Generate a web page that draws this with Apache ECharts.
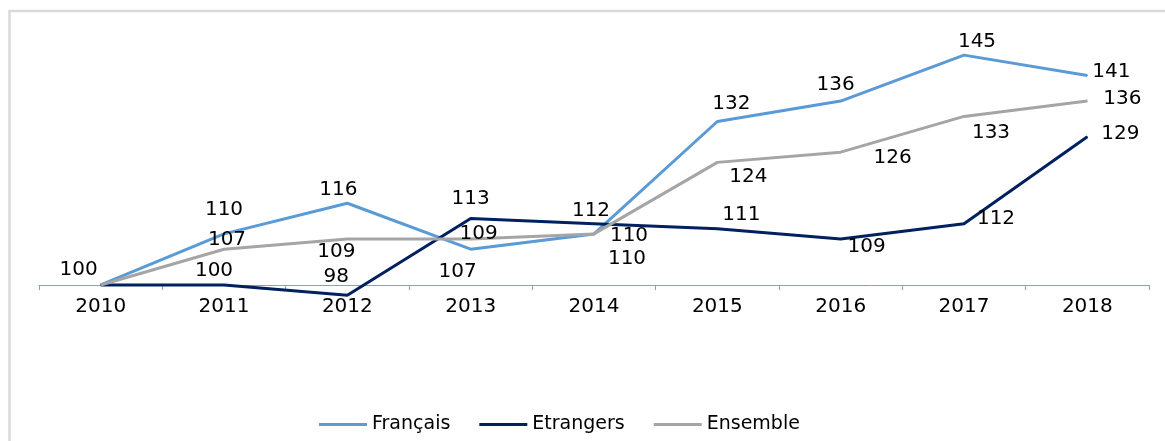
<!DOCTYPE html>
<html>
<head>
<meta charset="utf-8">
<style>
    html, body { margin: 0; padding: 0; background: #fff; }
    #chart { width: 1165px; height: 441px; }
</style>
<script src="https://cdn.jsdelivr.net/npm/echarts@6/dist/echarts.min.js"></script>
</head>
<body>
<div id="chart"></div>
<script>
    var years = ['2010', '2011', '2012', '2013', '2014', '2015', '2016', '2017', '2018'];
    var francais = [100, 110, 116, 107, 110, 132, 136, 145, 141];
    var etrangers = [100, 100, 98, 113, 112, 111, 109, 112, 129];
    var ensemble = [100, 107, 109, 109, 110, 124, 126, 133, 136];

    // label offsets from each point (null = no label)
    var francaisLabelPos = [[-22, -15], [0, -24], [-9, -13], [-13, 23], [33, 25], [14, -18], [-5, -16], [13, -13], [24, -4]];
    var etrangersLabelPos = [null, [-10, -14], [-11, -18], [0, -20], [-3, -13], [24, -14], [26, 8], [32, -5], [33, -3]];
    var ensembleLabelPos = [null, [3, -9], [-11, 13], [8, -5], [35, 2], [31, 14], [52, 6], [27, 16], [35, -2]];

    var font = 'DejaVu Sans';

    function buildData(values, offsets) {
        return values.map(function (v, i) {
            var off = offsets[i];
            if (!off) {
                return { value: v, label: { show: false } };
            }
            return { value: v, label: { offset: off } };
        });
    }

    function makeSeries(name, color, values, offsets) {
        return {
            name: name,
            type: 'line',
            data: buildData(values, offsets),
            symbol: 'circle',
            symbolSize: 1,
            itemStyle: { color: color },
            lineStyle: { color: color, width: 3 },
            label: {
                show: true,
                position: 'inside',
                color: '#000',
                fontFamily: font,
                fontSize: 20
            },
            emphasis: { disabled: true },
            animation: false
        };
    }

    var chart = echarts.init(document.getElementById('chart'));
    chart.setOption({
        backgroundColor: '#fff',
        animation: false,
        graphic: [{
            type: 'rect',
            shape: { x: 9.5, y: 11, width: 1300, height: 600 },
            style: { fill: 'none', stroke: '#d9d9d9', lineWidth: 2.5 },
            silent: true
        }],
        grid: {
            left: 39,
            right: 16,
            top: 50,
            bottom: 135.6
        },
        legend: {
            left: 314,
            top: 410,
            icon: 'rect',
            itemWidth: 48,
            itemHeight: 3,
            itemGap: 29,
            textStyle: { fontFamily: font, fontSize: 19, color: '#000' },
            data: ['Français', 'Etrangers', 'Ensemble']
        },
        xAxis: {
            type: 'category',
            data: years,
            offset: -20.4,
            axisLine: { lineStyle: { color: '#6fa8dc', width: 1 } },
            axisTick: { show: true, length: 5, lineStyle: { color: '#6fa8dc' } },
            axisLabel: { color: '#000', fontFamily: font, fontSize: 20, margin: 12 },
            splitLine: { show: false }
        },
        yAxis: {
            type: 'value',
            min: 96,
            max: 146,
            show: false,
            splitLine: { show: false }
        },
        series: [
            makeSeries('Français', '#5b9bd5', francais, francaisLabelPos),
            makeSeries('Etrangers', '#002060', etrangers, etrangersLabelPos),
            makeSeries('Ensemble', '#a5a5a5', ensemble, ensembleLabelPos)
        ]
    });
</script>
</body>
</html>
